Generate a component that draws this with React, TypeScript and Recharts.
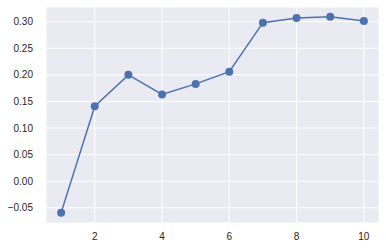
import { LineChart, Line, XAxis, YAxis, CartesianGrid } from 'recharts';

// Data
const steps = [1, 2, 3, 4, 5, 6, 7, 8, 9, 10];
const scores = [-0.059, 0.141, 0.2, 0.163, 0.183, 0.206, 0.298, 0.307, 0.309, 0.301];
const xTicks = [2, 4, 6, 8, 10];
const yTicks = [-0.05, 0, 0.05, 0.1, 0.15, 0.2, 0.25, 0.3];

const COLORS = {
  bg: '#EAEAF2',
  grid: '#FFFFFF',
  line: '#4C72B0',
  text: '#262626',
};

const tickStyle = { fontSize: 10, fill: COLORS.text, fontFamily: '"Liberation Sans", Arial, sans-serif' };

const fmtY = (v: number) => v.toFixed(2).replace('-', '\u2212');

export default function App() {
  const data = steps.map((x, i) => ({ x, y: scores[i] }));
  return (
    <div style={{ position: 'absolute', left: 0, top: 0, background: '#fff' }}>
      <LineChart width={386} height={249} data={data} margin={{ top: 7, right: 7, bottom: 0, left: 0 }}>
        <CartesianGrid
          stroke={COLORS.grid}
          strokeWidth={1}
          fill={COLORS.bg}
          fillOpacity={1}
        />
        <XAxis
          dataKey="x"
          type="number"
          domain={[0.55, 10.45]}
          ticks={xTicks}
          allowDataOverflow
          axisLine={false}
          tickLine={false}
          tickSize={0}
          tickMargin={10}
          height={26}
          tick={tickStyle}
        />
        <YAxis
          type="number"
          domain={[-0.0785, 0.3275]}
          ticks={yTicks}
          allowDataOverflow
          axisLine={false}
          tickLine={false}
          tickSize={0}
          tickMargin={13}
          width={46}
          tickFormatter={fmtY}
          tick={tickStyle}
        />
        <Line
          dataKey="y"
          type="linear"
          stroke={COLORS.line}
          strokeWidth={1.5}
          dot={{ r: 4, fill: COLORS.line, stroke: COLORS.line, strokeWidth: 0 }}
          isAnimationActive={false}
        />
      </LineChart>
    </div>
  );
}
